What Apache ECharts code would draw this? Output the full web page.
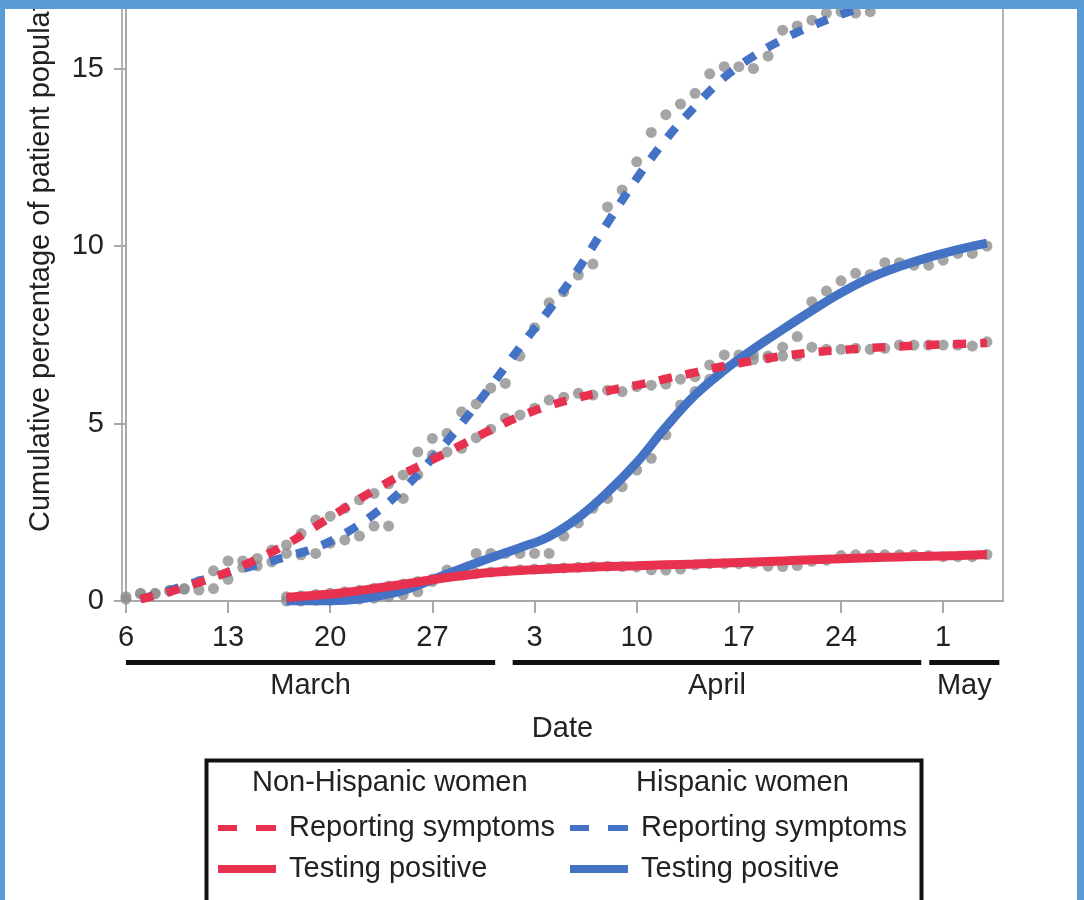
<!DOCTYPE html>
<html>
<head>
<meta charset="utf-8">
<script src="https://cdn.jsdelivr.net/npm/echarts@6/dist/echarts.min.js"></script>
<style>
  html, body { margin: 0; padding: 0; background: #ffffff; overflow: hidden; }
  #wrap { position: absolute; left: 0; top: 0; width: 1084px; height: 900px; overflow: hidden; }
  #chart { position: absolute; left: 0; top: -60px; width: 1084px; height: 960px; }
  #frame { position: absolute; left: 0; top: 0; width: 1084px; height: 900px; box-sizing: border-box;
           border-top: 9px solid #5b9bd5; border-left: 5px solid #5b9bd5; border-right: 7px solid #5b9bd5;
           pointer-events: none; }
</style>
</head>
<body>
<div id="wrap"><div id="chart"></div></div>
<div id="frame"></div>
<script>
// x axis: days since 6 March
const tickDays = [0, 7, 14, 21, 28, 35, 42, 49, 56];
const tickLabels = ['6', '13', '20', '27', '3', '10', '17', '24', '1'];
const yTicks = [0, 5, 10, 15];
const monthNames = ['March', 'April', 'May'];
const monthStart = [0, 26.5, 55.05];
const monthEnd = [25.3, 54.5, 59.85];

const seriesNames = ['Non-Hispanic women|Reporting symptoms', 'Non-Hispanic women|Testing positive',
                     'Hispanic women|Reporting symptoms', 'Hispanic women|Testing positive'];

// fitted curves (control points every 2 days)
const fitDaysSym = [1,3,5,7,9,11,13,15,17,19,21,23,25,27,29,31,33,35,37,39,41,43,45,47,49,51,53,55,57,59];
const nhSymFit = [0.05,0.26,0.52,0.82,1.18,1.6,2.1,2.62,3.12,3.58,3.98,4.4,4.82,5.2,5.5,5.73,5.92,6.08,6.26,6.44,6.62,6.77,6.9,7.0,7.07,7.13,7.17,7.21,7.24,7.27];
const hSymFit = [0.05,0.3,0.56,0.8,1.02,1.25,1.5,1.9,2.45,3.15,4.02,5.0,6.05,7.15,8.2,9.35,10.65,11.9,13.0,13.93,14.75,15.35,15.82,16.2,16.52,16.8,17.05];
const fitDaysPos = [11,13,15,17,19,21,23,25,27,29,31,33,35,37,39,41,43,45,47,49,51,53,55,57,59];
const nhPosFit = [0.1,0.16,0.24,0.35,0.47,0.6,0.71,0.8,0.86,0.9,0.94,0.97,0.99,1.02,1.04,1.07,1.1,1.13,1.16,1.19,1.22,1.24,1.26,1.28,1.31];
const hPosFit = [0.0,0.0,0.02,0.12,0.3,0.6,0.92,1.22,1.5,1.82,2.35,3.06,3.9,4.9,5.8,6.5,7.1,7.65,8.18,8.68,9.1,9.42,9.68,9.9,10.08];

// observed daily values (grey dots)
const nhSymFirstDay = 0;
const nhSymDots = [0.05,0.22,0.2,0.28,0.35,0.55,0.85,1.13,1.13,1.2,1.44,1.58,1.9,2.28,2.39,2.61,2.85,3.03,3.3,3.55,
  4.2,4.11,4.2,4.3,4.6,4.84,5.15,5.24,5.43,5.66,5.74,5.85,5.8,5.94,5.9,6.04,6.08,6.11,6.25,6.32,
  6.65,6.93,6.75,6.8,6.85,6.9,6.9,7.15,7.09,7.09,7.12,7.09,7.12,7.21,7.21,7.21,7.21,7.21,7.18,7.3];
const hSymFirstDay = 0;
const hSymDots = [0.12,0.2,0.22,0.3,0.33,0.31,0.35,0.61,0.95,0.99,1.1,1.34,1.3,1.34,1.63,1.72,1.83,2.11,2.11,2.89,
  3.55,4.58,4.72,5.33,5.55,6.0,6.13,6.9,7.7,8.4,8.71,9.18,9.49,11.1,11.58,12.37,13.2,13.7,14.0,14.3,
  14.85,15.05,15.05,15.0,15.35,16.08,16.2,16.36,16.56,16.6,16.56,16.6];
const posFirstDay = 11;
const nhPosDots = [0.12,0.15,0.18,0.22,0.26,0.3,0.36,0.42,0.48,0.55,0.62,0.68,0.73,0.78,0.82,0.85,0.88,0.9,0.92,0.93,
  0.95,0.97,0.98,0.97,0.96,0.88,0.87,0.9,1.02,1.05,1.05,1.05,1.06,0.98,0.97,1.0,1.12,1.15,1.28,1.3,
  1.3,1.3,1.3,1.3,1.28,1.25,1.25,1.25,1.31];
const hPosDots = [0.0,0.0,0.02,0.02,0.05,0.05,0.08,0.12,0.17,0.26,0.55,0.87,0.87,1.34,1.34,1.34,1.34,1.34,1.34,1.83,
  2.2,2.61,2.89,3.22,3.69,4.02,4.68,5.52,5.9,6.25,6.55,6.93,6.93,6.9,7.15,7.45,8.43,8.73,9.02,9.23,
  9.2,9.53,9.53,9.46,9.46,9.6,9.79,9.79,10.0];

const RED = '#e8304f';
const BLUE = '#4472c4';
const GREY = '#8e8e8e';
const TXT = '#222222';
const FONT = '"Liberation Sans", Arial, Helvetica, sans-serif';
const FS = 29;
const OFF = 60; // chart canvas starts 60px above the visible page

const pairs = (days, vals) => vals.map((v, i) => [days[i], v]);
const daily = (first, vals) => vals.map((v, i) => [first + i, v]);

function dotSeries(data) {
  return { type: 'scatter', data: data, symbol: 'circle', symbolSize: 11, silent: true,
           itemStyle: { color: GREY }, z: 2 };
}
function lineSeries(name, data, color, dashed) {
  return { type: 'line', name: name, data: data, smooth: 0.4,
           showSymbol: false, symbol: 'none', silent: true, z: 3,
           itemStyle: { color: color },
           lineStyle: { color: color, width: dashed ? 8.5 : 9, type: dashed ? [13, 14] : 'solid', cap: 'butt' } };
}
const dashIcon = 'path://M0,0H19V6H0Z M38,0H58V6H38Z';
function legendFor(left, names) {
  return {
    orient: 'vertical', left: left, top: 811 + OFF, padding: 0, itemGap: 7,
    itemWidth: 58, itemHeight: 8, selectedMode: false,
    data: [
      { name: names[0], icon: dashIcon, itemStyle: { color: names[2], borderWidth: 0 } },
      { name: names[1], icon: 'rect', itemStyle: { color: names[2], borderWidth: 0 } }
    ],
    formatter: n => n.split('|')[1],
    textStyle: { fontSize: FS, fontFamily: FONT, color: TXT, lineHeight: 34, padding: [0, 0, 0, 8] }
  };
}

const chart = echarts.init(document.getElementById('chart'), null, { renderer: 'canvas' });
chart.setOption({
  animation: false,
  backgroundColor: '#ffffff',
  grid: { left: 122, right: 81, top: OFF - 38, bottom: 299, outerBoundsMode: 'none', containLabel: false,
          show: true, borderColor: '#b3b3b3', borderWidth: 2, backgroundColor: '#ffffff' },
  xAxis: {
    type: 'value', min: -0.27, max: 60.1,
    name: 'Date', nameLocation: 'middle', nameGap: 113,
    nameTextStyle: { fontSize: FS, fontFamily: FONT, color: TXT },
    axisLine: { show: true, onZero: false, lineStyle: { color: '#a8a8a8', width: 2 } },
    axisTick: { show: true, length: 12, customValues: tickDays, lineStyle: { color: '#a8a8a8', width: 2 } },
    axisLabel: { customValues: tickDays, margin: 22, fontSize: FS, fontFamily: FONT, color: TXT,
                 formatter: v => tickLabels[tickDays.indexOf(v)] },
    splitLine: { show: false }
  },
  yAxis: {
    type: 'value', min: 0, max: 18, interval: 5,
    axisLine: { show: true, lineStyle: { color: '#a8a8a8', width: 2 } },
    axisTick: { show: true, length: 12, customValues: yTicks, lineStyle: { color: '#a8a8a8', width: 2 } },
    axisLabel: { customValues: yTicks, margin: 18, fontSize: FS, fontFamily: FONT, color: TXT },
    splitLine: { show: false }
  },
  legend: [
    legendFor(218, [seriesNames[0], seriesNames[1], RED]),
    legendFor(570, [seriesNames[2], seriesNames[3], BLUE])
  ],
  graphic: [
    { type: 'text', x: 41, y: 532 + OFF, rotation: Math.PI / 2,
      style: { text: 'Cumulative percentage of patient population', fontSize: FS, fontFamily: FONT, fill: TXT,
               align: 'left', verticalAlign: 'middle' } },
    { type: 'rect', shape: { x: 206.5, y: 760.5 + OFF, width: 715, height: 220 },
      style: { fill: 'none', stroke: '#111111', lineWidth: 4 } },
    { type: 'text', x: 252, y: 783 + OFF,
      style: { text: 'Non-Hispanic women', fontSize: FS, fontFamily: FONT, fill: TXT, align: 'left', verticalAlign: 'middle' } },
    { type: 'text', x: 636, y: 783 + OFF,
      style: { text: 'Hispanic women', fontSize: FS, fontFamily: FONT, fill: TXT, align: 'left', verticalAlign: 'middle' } }
  ],
  series: [
    dotSeries(daily(nhSymFirstDay, nhSymDots)),
    dotSeries(daily(hSymFirstDay, hSymDots)),
    dotSeries(daily(posFirstDay, nhPosDots)),
    dotSeries(daily(posFirstDay, hPosDots)),
    lineSeries(seriesNames[3], pairs(fitDaysPos, hPosFit), BLUE, false),
    lineSeries(seriesNames[2], pairs(fitDaysSym, hSymFit), BLUE, true),
    lineSeries(seriesNames[0], pairs(fitDaysSym, nhSymFit), RED, true),
    lineSeries(seriesNames[1], pairs(fitDaysPos, nhPosFit), RED, false),
    {
      type: 'custom', silent: true, clip: false, z: 5,
      data: monthNames.map((m, i) => [monthStart[i], monthEnd[i], 0]),
      encode: { x: [0, 1], y: 2 },
      renderItem: function (params, api) {
        const s = api.coord([api.value(0), 0]);
        const e = api.coord([api.value(1), 0]);
        return {
          type: 'group',
          children: [
            { type: 'rect', shape: { x: s[0], y: s[1] + 59, width: e[0] - s[0], height: 5 }, style: { fill: '#111111' } },
            { type: 'text', style: { text: monthNames[params.dataIndex], x: (s[0] + e[0]) / 2, y: s[1] + 85,
                align: 'center', verticalAlign: 'middle', fontSize: FS, fontFamily: FONT, fill: TXT } }
          ]
        };
      }
    }
  ]
});
</script>
</body>
</html>
